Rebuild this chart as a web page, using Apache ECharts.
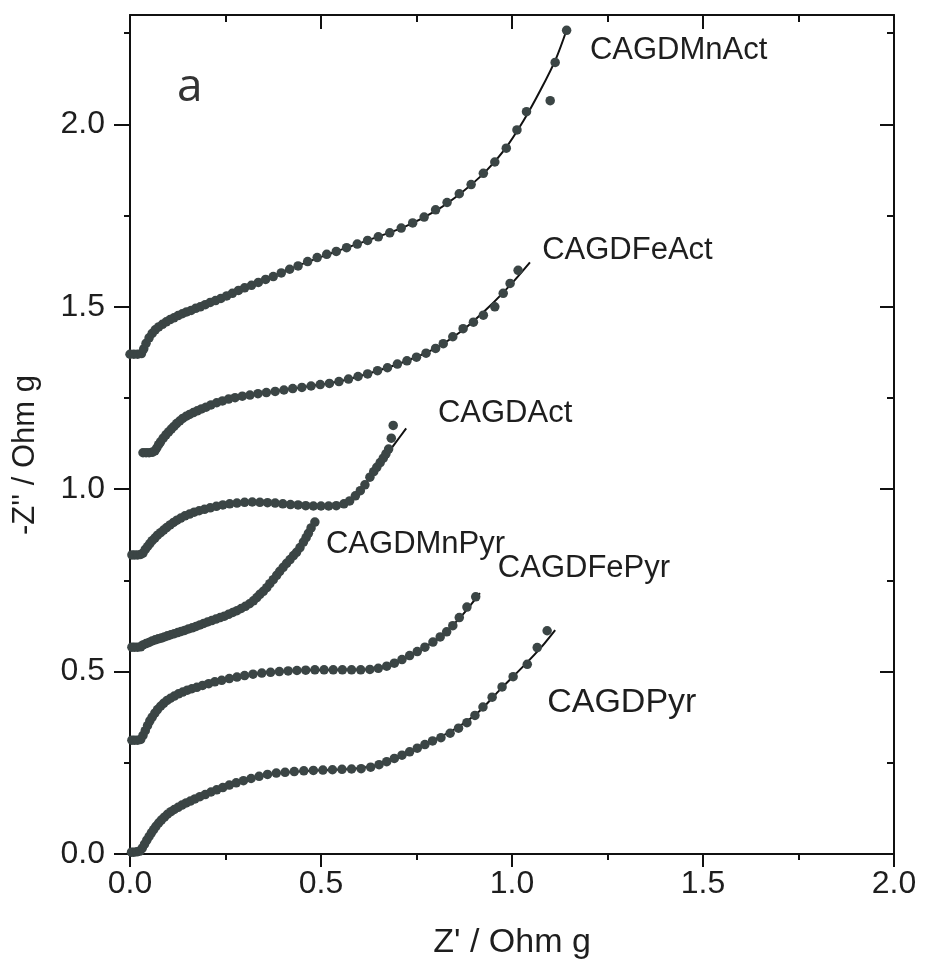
<!DOCTYPE html>
<html>
<head>
<meta charset="UTF-8">
<title>Nyquist plots</title>
<script src="https://cdn.jsdelivr.net/npm/echarts@6/dist/echarts.min.js"></script>
</head>
<body style="margin:0;background:#fff">
<div id="chart" style="width:925px;height:969px;"></div>
<script>
// measured points and fitted curves, [Z', -Z'']
var mnActPts = [[0.00,1.37],[0.01,1.37],[0.02,1.37],[0.03,1.372],[0.036,1.385],[0.042,1.40],[0.05,1.415],[0.058,1.427],[0.066,1.437],[0.075,1.445],[0.085,1.452],[0.095,1.459],[0.105,1.465],[0.115,1.47],[0.126,1.476],[0.137,1.481],[0.148,1.486],[0.16,1.49],[0.172,1.496],[0.184,1.50],[0.197,1.506],[0.21,1.512],[0.224,1.517],[0.238,1.523],[0.253,1.53],[0.268,1.537],[0.284,1.545],[0.30,1.552],[0.318,1.559],[0.336,1.567],[0.355,1.575],[0.375,1.583],[0.396,1.593],[0.418,1.603],[0.44,1.612],[0.465,1.624],[0.49,1.635],[0.515,1.644],[0.54,1.652],[0.567,1.662],[0.595,1.672],[0.622,1.682],[0.65,1.692],[0.68,1.703],[0.71,1.716],[0.74,1.73],[0.77,1.746],[0.8,1.766],[0.83,1.786],[0.862,1.81],[0.893,1.835],[0.925,1.866],[0.955,1.897],[0.985,1.935],[1.013,1.985],[1.038,2.035],[1.10,2.065],[1.113,2.17],[1.143,2.258]];
var mnActFit = [[0,1.37],[0.03,1.372],[0.045,1.405],[0.065,1.435],[0.09,1.456],[0.13,1.478],[0.19,1.503],[0.27,1.538],[0.36,1.578],[0.45,1.617],[0.54,1.652],[0.63,1.685],[0.72,1.72],[0.8,1.763],[0.87,1.815],[0.93,1.87],[0.98,1.93],[1.03,2.01],[1.075,2.095],[1.115,2.18],[1.145,2.265]];

var feActPts = [[0.034,1.10],[0.042,1.10],[0.05,1.10],[0.058,1.101],[0.065,1.105],[0.07,1.113],[0.075,1.122],[0.08,1.13],[0.087,1.14],[0.094,1.149],[0.101,1.157],[0.108,1.165],[0.115,1.172],[0.122,1.18],[0.13,1.187],[0.138,1.194],[0.147,1.2],[0.156,1.205],[0.166,1.21],[0.176,1.215],[0.187,1.22],[0.199,1.225],[0.212,1.231],[0.227,1.237],[0.242,1.242],[0.258,1.247],[0.275,1.251],[0.294,1.255],[0.314,1.258],[0.335,1.262],[0.357,1.265],[0.38,1.268],[0.403,1.272],[0.426,1.276],[0.45,1.279],[0.474,1.283],[0.498,1.287],[0.522,1.29],[0.547,1.295],[0.572,1.302],[0.597,1.309],[0.622,1.316],[0.648,1.325],[0.674,1.333],[0.7,1.343],[0.725,1.352],[0.75,1.362],[0.775,1.373],[0.8,1.386],[0.82,1.399],[0.845,1.418],[0.872,1.44],[0.899,1.458],[0.925,1.477],[0.955,1.50],[0.977,1.537],[0.995,1.564],[1.016,1.60]];
var feActFit = [[0.034,1.10],[0.062,1.103],[0.085,1.138],[0.115,1.173],[0.155,1.204],[0.21,1.23],[0.28,1.252],[0.37,1.267],[0.46,1.281],[0.55,1.296],[0.64,1.322],[0.72,1.35],[0.8,1.387],[0.87,1.435],[0.94,1.5],[1.0,1.565],[1.047,1.622]];

var actPts = [[0.005,0.82],[0.012,0.82],[0.02,0.82],[0.028,0.821],[0.034,0.825],[0.04,0.835],[0.046,0.843],[0.052,0.851],[0.058,0.859],[0.065,0.866],[0.072,0.874],[0.08,0.881],[0.088,0.888],[0.096,0.895],[0.105,0.902],[0.114,0.909],[0.123,0.915],[0.133,0.921],[0.144,0.927],[0.156,0.932],[0.168,0.937],[0.181,0.941],[0.195,0.945],[0.21,0.949],[0.226,0.953],[0.243,0.957],[0.261,0.96],[0.28,0.962],[0.3,0.964],[0.32,0.965],[0.34,0.964],[0.36,0.963],[0.38,0.962],[0.4,0.96],[0.42,0.958],[0.44,0.957],[0.46,0.955],[0.48,0.954],[0.5,0.954],[0.52,0.954],[0.54,0.955],[0.56,0.96],[0.575,0.968],[0.59,0.982],[0.603,0.996],[0.615,1.012],[0.628,1.033],[0.638,1.048],[0.646,1.06],[0.655,1.073],[0.663,1.085],[0.67,1.097],[0.677,1.11],[0.684,1.14],[0.689,1.175]];
var actFit = [[0.005,0.82],[0.03,0.822],[0.05,0.848],[0.08,0.881],[0.12,0.913],[0.18,0.94],[0.25,0.958],[0.32,0.964],[0.4,0.96],[0.48,0.954],[0.54,0.956],[0.58,0.972],[0.62,1.02],[0.66,1.078],[0.69,1.12],[0.723,1.167]];

var mnPyrPts = [[0.005,0.567],[0.012,0.567],[0.02,0.567],[0.028,0.568],[0.034,0.573],[0.042,0.577],[0.05,0.58],[0.058,0.584],[0.066,0.587],[0.074,0.59],[0.082,0.592],[0.09,0.595],[0.098,0.598],[0.107,0.601],[0.116,0.604],[0.125,0.607],[0.134,0.61],[0.143,0.613],[0.153,0.617],[0.163,0.62],[0.173,0.624],[0.183,0.628],[0.193,0.632],[0.203,0.636],[0.214,0.64],[0.225,0.644],[0.236,0.648],[0.247,0.652],[0.258,0.657],[0.269,0.662],[0.28,0.667],[0.291,0.673],[0.302,0.679],[0.313,0.686],[0.323,0.694],[0.332,0.703],[0.34,0.712],[0.349,0.72],[0.358,0.73],[0.366,0.741],[0.375,0.752],[0.384,0.764],[0.392,0.775],[0.401,0.786],[0.41,0.797],[0.419,0.807],[0.428,0.818],[0.436,0.827],[0.445,0.84],[0.454,0.855],[0.461,0.867],[0.467,0.879],[0.474,0.894],[0.484,0.91]];
var mnPyrFit = [[0.005,0.567],[0.03,0.57],[0.08,0.591],[0.15,0.616],[0.22,0.642],[0.28,0.667],[0.33,0.7],[0.38,0.758],[0.43,0.82],[0.46,0.865],[0.48,0.905]];

var fePyrPts = [[0.005,0.312],[0.012,0.312],[0.02,0.312],[0.028,0.314],[0.034,0.325],[0.04,0.338],[0.046,0.352],[0.052,0.365],[0.058,0.375],[0.065,0.386],[0.072,0.396],[0.08,0.405],[0.088,0.413],[0.097,0.421],[0.106,0.427],[0.116,0.433],[0.127,0.439],[0.138,0.444],[0.15,0.449],[0.162,0.453],[0.175,0.457],[0.19,0.462],[0.206,0.467],[0.222,0.472],[0.24,0.476],[0.26,0.481],[0.28,0.485],[0.3,0.489],[0.322,0.493],[0.345,0.496],[0.368,0.498],[0.391,0.5],[0.414,0.502],[0.437,0.503],[0.46,0.504],[0.484,0.505],[0.508,0.505],[0.532,0.505],[0.556,0.505],[0.58,0.505],[0.604,0.505],[0.628,0.506],[0.65,0.509],[0.672,0.515],[0.692,0.523],[0.712,0.533],[0.732,0.544],[0.752,0.555],[0.772,0.567],[0.793,0.581],[0.812,0.595],[0.829,0.609],[0.845,0.626],[0.862,0.648],[0.882,0.677],[0.905,0.705]];
var fePyrFit = [[0.005,0.312],[0.03,0.316],[0.05,0.36],[0.08,0.405],[0.12,0.435],[0.18,0.459],[0.26,0.48],[0.35,0.497],[0.45,0.504],[0.56,0.505],[0.64,0.508],[0.7,0.527],[0.76,0.559],[0.82,0.603],[0.87,0.655],[0.916,0.715]];

var pyrPts = [[0.004,0.005],[0.01,0.005],[0.018,0.006],[0.026,0.008],[0.032,0.016],[0.038,0.027],[0.044,0.038],[0.05,0.048],[0.056,0.058],[0.062,0.067],[0.068,0.076],[0.075,0.085],[0.082,0.093],[0.09,0.101],[0.098,0.109],[0.107,0.116],[0.116,0.122],[0.126,0.128],[0.136,0.134],[0.147,0.14],[0.158,0.145],[0.17,0.151],[0.183,0.157],[0.197,0.163],[0.212,0.17],[0.227,0.176],[0.243,0.182],[0.26,0.189],[0.278,0.195],[0.297,0.201],[0.317,0.207],[0.338,0.213],[0.36,0.218],[0.383,0.222],[0.406,0.224],[0.43,0.226],[0.455,0.228],[0.48,0.229],[0.505,0.23],[0.53,0.231],[0.555,0.232],[0.58,0.233],[0.605,0.234],[0.63,0.238],[0.652,0.245],[0.672,0.253],[0.692,0.262],[0.712,0.271],[0.732,0.28],[0.752,0.29],[0.772,0.3],[0.792,0.31],[0.814,0.319],[0.838,0.331],[0.86,0.345],[0.882,0.36],[0.903,0.38],[0.924,0.403],[0.948,0.43],[0.974,0.458],[1.003,0.486],[1.04,0.52],[1.066,0.566],[1.092,0.612]];
var pyrFit = [[0.004,0.005],[0.03,0.012],[0.05,0.05],[0.08,0.091],[0.12,0.124],[0.18,0.156],[0.26,0.188],[0.35,0.215],[0.45,0.227],[0.56,0.232],[0.64,0.242],[0.72,0.274],[0.79,0.31],[0.85,0.342],[0.91,0.387],[0.97,0.452],[1.03,0.515],[1.075,0.565],[1.113,0.614]];

// text labels: name and anchor (left edge, middle) in data units
var labelNames = ['a', 'CAGDMnAct', 'CAGDFeAct', 'CAGDAct', 'CAGDMnPyr', 'CAGDFePyr', 'CAGDPyr'];
var labelAnchors = [[0.123, 2.10], [1.204, 2.203], [1.079, 1.655], [0.806, 1.208], [0.513, 0.849], [0.963, 0.784], [1.092, 0.414]];

var yMajorTicks = [0, 0.5, 1.0, 1.5, 2.0];
var yMinorTicks = [0.25, 0.75, 1.25, 1.75, 2.25];

var chart = echarts.init(document.getElementById('chart'), null, { renderer: 'canvas' });

var ink = '#111';
var font = 'Liberation Sans';
var dotColor = '#3b4545';

var samples = [
    { name: 'CAGDMnAct', pts: mnActPts, fit: mnActFit },
    { name: 'CAGDFeAct', pts: feActPts, fit: feActFit },
    { name: 'CAGDAct', pts: actPts, fit: actFit },
    { name: 'CAGDMnPyr', pts: mnPyrPts, fit: mnPyrFit },
    { name: 'CAGDFePyr', pts: fePyrPts, fit: fePyrFit },
    { name: 'CAGDPyr', pts: pyrPts, fit: pyrFit }
];

var series = [];
samples.forEach(function (s) {
    series.push({
        type: 'line', name: s.name + ' fit', data: s.fit,
        smooth: 0.3, symbol: 'none', silent: true,
        lineStyle: { color: ink, width: 2 }, z: 2
    });
    series.push({
        type: 'scatter', name: s.name, data: s.pts,
        symbolSize: 9.5, itemStyle: { color: dotColor, opacity: 1 }, z: 3
    });
});

// labels drawn through the axes
var labelData = labelNames.map(function (n, i) {
    var item = { name: n, value: labelAnchors[i] };
    if (n === 'a') item.label = { fontSize: 46, fontFamily: 'Open Sans', color: '#333' };
    if (n === 'CAGDPyr') item.label = { fontSize: 34 };
    return item;
});
series.push({
    type: 'scatter', name: 'labels', data: labelData, symbolSize: 0, silent: true, z: 4,
    itemStyle: { opacity: 1 },
    label: { show: true, position: 'right', distance: 0, formatter: '{b}', fontSize: 31, fontFamily: font, color: '#1e1e1e' }
});

function axisBase() {
    return {
        type: 'value',
        axisLine: { show: true, onZero: false, lineStyle: { color: ink, width: 2 } },
        axisTick: { lineStyle: { color: ink, width: 2 } },
        splitLine: { show: false }
    };
}

var xBottom = axisBase();
xBottom.position = 'bottom';
xBottom.min = 0; xBottom.max = 2; xBottom.interval = 0.5;
xBottom.axisTick.length = 13;
xBottom.minorTick = { show: true, splitNumber: 2, length: 6, lineStyle: { color: ink, width: 2 } };
xBottom.axisLabel = { fontSize: 32, fontFamily: font, color: '#1e1e1e', margin: 14, formatter: function (v) { return v.toFixed(1); } };
xBottom.name = "Z' / Ohm g";
xBottom.nameLocation = 'middle';
xBottom.nameGap = 72;
xBottom.nameTextStyle = { fontSize: 34, fontFamily: font, color: '#1e1e1e' };

var xTop = axisBase();
xTop.position = 'top';
xTop.min = 0; xTop.max = 2; xTop.interval = 0.5;
xTop.axisTick.inside = true; xTop.axisTick.length = 14;
xTop.minorTick = { show: true, splitNumber: 2, length: 7, lineStyle: { color: ink, width: 2 } };
xTop.axisLabel = { show: false };

function yAxis(pos, ticks, len, inside, line, labels) {
    var a = axisBase();
    a.position = pos;
    a.min = 0; a.max = 2.3;
    a.axisLine.show = line;
    a.axisTick.customValues = ticks;
    a.axisTick.length = len;
    a.axisTick.inside = inside;
    a.axisLabel = labels ? {
        customValues: ticks, fontSize: 32, fontFamily: font, color: '#1e1e1e', margin: 25,
        formatter: function (v) { return v.toFixed(1); }
    } : { show: false };
    return a;
}

var option = {
    backgroundColor: '#fff',
    animation: false,
    grid: { left: 130, right: 31, top: 15, bottom: 115, containLabel: false },
    xAxis: [xBottom, xTop],
    yAxis: [
        yAxis('left', yMajorTicks, 16, false, true, true),
        yAxis('left', yMinorTicks, 6, false, false, false),
        yAxis('right', yMajorTicks, 14, true, true, false),
        yAxis('right', yMinorTicks, 7, true, false, false)
    ],
    graphic: [{
        type: 'text', x: 25, y: 455, rotation: Math.PI / 2,
        style: { text: "-Z'' / Ohm g", font: '31px "Liberation Sans"', fill: '#1e1e1e', textAlign: 'center', textVerticalAlign: 'middle' }
    }],
    series: series
};

chart.setOption(option);
</script>
</body>
</html>
